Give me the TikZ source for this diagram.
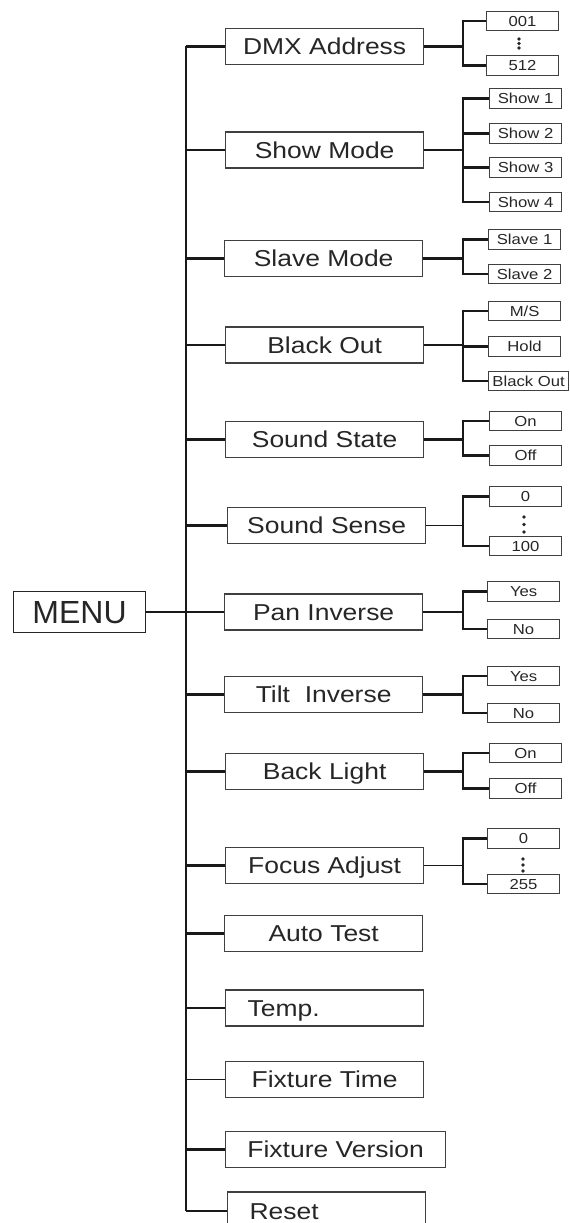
\documentclass[tikz,border=0pt]{standalone}
\usepackage{fontspec}
\setmainfont{Liberation Sans}
\newfontfamily\wfont[FakeStretch=1.15]{Liberation Sans}
\tikzset{
 mainbox/.style={draw=black!75, line width=1.3pt, anchor=west, minimum width=198pt, minimum height=36pt, inner sep=0pt, font=\wfont\fontsize{23}{23}\selectfont, text=black!85, text height=16.5pt, text depth=0pt},
 subbox/.style={draw=black!75, line width=1.2pt, anchor=west, minimum width=72pt, minimum height=19.5pt, inner sep=1pt, font=\wfont\fontsize{14.5}{14.5}\selectfont, text=black!85, text height=10.5pt, text depth=0pt},
 conn/.style={draw=black!90, line width=2.6pt},
 thinconn/.style={draw=black!90, line width=1.5pt},
 vdot/.style={circle, fill=black!85, inner sep=0pt, minimum size=3.8pt},
 leftbox/.style={text width=154pt, align=left},
}
\begin{document}
\begin{tikzpicture}[x=1pt,y=-1pt]
\path[use as bounding box] (0,0) rectangle (570,1223);
\clip (0,0) rectangle (570,1223);
% MENU
\node[draw=black!85, line width=1.2pt, anchor=west, minimum width=132pt, minimum height=41pt, inner sep=0pt, font=\fontsize{32}{32}\selectfont, text=black!85, text height=23pt, text depth=0pt] (menu) at (13,612) {MENU};
% main items
\node[mainbox] (dmx) at (225,46.5) {DMX Address};
\node[mainbox] (show) at (225,150) {Show Mode};
\node[mainbox] (slave) at (224,258.5) {Slave Mode};
\node[mainbox] (bo) at (225,345) {Black Out};
\node[mainbox] (sst) at (225,439.5) {Sound State};
\node[mainbox] (sse) at (227,525.5) {Sound Sense};
\node[mainbox] (pan) at (224,612) {Pan Inverse};
\node[mainbox] (tilt) at (224,694.5) {Tilt\ \ Inverse};
\node[mainbox] (bl) at (225,771.5) {Back Light};
\node[mainbox] (fa) at (225,865.5) {Focus Adjust};
\node[mainbox] (at) at (224,933.5) {Auto Test};
\node[mainbox, leftbox] (tmp) at (225,1008) {Temp.};
\node[mainbox] (ft) at (225,1079.5) {Fixture Time};
\node[mainbox, minimum width=220pt] (fv) at (225,1149.5) {Fixture Version};
\node[mainbox, leftbox, minimum height=38pt] (rst) at (227,1211) {Reset};
% spine
\coordinate (spine) at (186,0);
\draw[conn, line width=2.1pt] (spine |- dmx.west) -- (spine |- rst.west);
\draw[conn] (menu.east) -- (pan.west);
\foreach \n in {dmx,show,slave,bo,sst,sse,tilt,bl,fa,at,tmp,fv,rst}{
  \draw[conn] (spine |- \n.west) -- (\n.west);
}
\draw[thinconn] (spine |- ft.west) -- (ft.west);
% sub items
\coordinate (j) at (463,0);
% DMX
\node[subbox] (d1) at (486,21) {001};
\node[subbox] (d2) at (486,65.5) {512};
\node[vdot] (d1a) at (519,39) {};
\node[vdot] (d1b) at (519,43.5) {};
\node[vdot] (d1c) at (519,48) {};
\draw[conn] (dmx.east) -- (dmx.east -| j);
\draw[conn] (d1.west) -| (j |- d2.west) -- (d2.west);
% Show
\node[subbox] (s1) at (489,98.5) {Show 1};
\node[subbox] (s2) at (489,133.5) {Show 2};
\node[subbox] (s3) at (489,167.5) {Show 3};
\node[subbox] (s4) at (489,202) {Show 4};
\draw[conn] (show.east) -- (show.east -| j);
\draw[conn] (s1.west) -| (j |- s4.west) -- (s4.west);
\draw[conn] (j |- s2.west) -- (s2.west);
\draw[conn] (j |- s3.west) -- (s3.west);
% Slave
\node[subbox] (v1) at (488,239.5) {Slave 1};
\node[subbox] (v2) at (488,274) {Slave 2};
\draw[conn] (slave.east) -- (slave.east -| j);
\draw[conn] (v1.west) -| (j |- v2.west) -- (v2.west);
% Black out
\node[subbox] (b1) at (488,311) {M/S};
\node[subbox] (b2) at (488,346.5) {Hold};
\node[subbox, minimum width=80pt, inner sep=0pt] (b3) at (488,381) {Black Out};
\draw[conn] (bo.east) -- (bo.east -| j);
\draw[conn] (b1.west) -| (j |- b3.west) -- (b3.west);
\draw[conn] (j |- b2.west) -- (b2.west);
% Sound state
\node[subbox] (o1) at (489,421) {On};
\node[subbox] (o2) at (489,455.5) {Off};
\draw[conn] (sst.east) -- (sst.east -| j);
\draw[conn] (o1.west) -| (j |- o2.west) -- (o2.west);
% Sound sense
\node[subbox] (n1) at (489,496.5) {0};
\node[subbox] (n2) at (489,546) {100};
\node[vdot] (n1a) at (524,517) {};
\node[vdot] (n1b) at (524,524.5) {};
\node[vdot] (n1c) at (524,532) {};
\draw[thinconn] (sse.east) -- (sse.east -| j);
\draw[conn] (n1.west) -| (j |- n2.west) -- (n2.west);
% Pan
\node[subbox] (p1) at (487,591.5) {Yes};
\node[subbox] (p2) at (487,629) {No};
\draw[conn] (pan.east) -- (pan.east -| j);
\draw[conn] (p1.west) -| (j |- p2.west) -- (p2.west);
% Tilt
\node[subbox] (t1) at (487,676) {Yes};
\node[subbox] (t2) at (487,713) {No};
\draw[conn] (tilt.east) -- (tilt.east -| j);
\draw[conn] (t1.west) -| (j |- t2.west) -- (t2.west);
% Back light
\node[subbox] (l1) at (489,753) {On};
\node[subbox] (l2) at (489,788.5) {Off};
\draw[conn] (bl.east) -- (bl.east -| j);
\draw[conn] (l1.west) -| (j |- l2.west) -- (l2.west);
% Focus
\node[subbox] (f1) at (487,838.5) {0};
\node[subbox] (f2) at (487,884) {255};
\node[vdot] (f1a) at (523,859) {};
\node[vdot] (f1b) at (523,865) {};
\node[vdot] (f1c) at (523,871) {};
\draw[thinconn] (fa.east) -- (fa.east -| j);
\draw[conn] (f1.west) -| (j |- f2.west) -- (f2.west);
\end{tikzpicture}
\end{document}
